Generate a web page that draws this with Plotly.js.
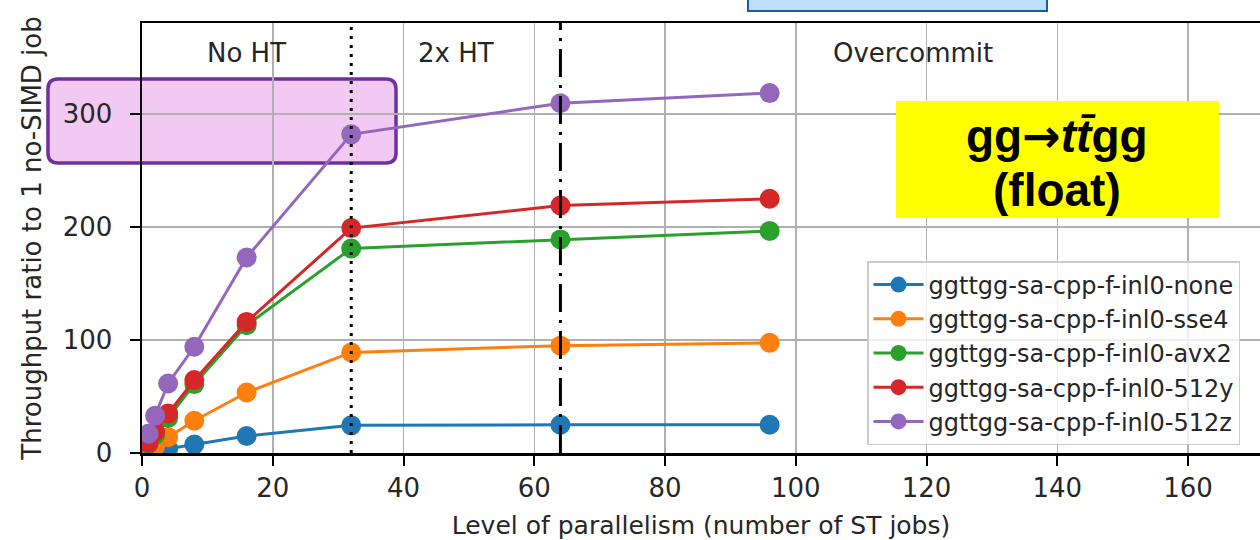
<!DOCTYPE html>
<html>
<head>
<meta charset="utf-8">
<script src="https://cdn.plot.ly/plotly-3.0.1.min.js"></script>
<style>html,body{margin:0;padding:0;background:#fff;}#chart{width:1260px;height:540px;}</style>
</head>
<body>
<div id="chart"></div>
<script>
// ---- data ----
const jobs = [1, 2, 4, 8, 16, 32, 64, 96];
const seriesNames = [
  "ggttgg-sa-cpp-f-inl0-none",
  "ggttgg-sa-cpp-f-inl0-sse4",
  "ggttgg-sa-cpp-f-inl0-avx2",
  "ggttgg-sa-cpp-f-inl0-512y",
  "ggttgg-sa-cpp-f-inl0-512z"
];
const noneVals = [1, 2, 4, 7.5, 15, 24.5, 25, 25];
const sse4Vals = [3, 6, 14, 28.5, 53.5, 89, 95, 97.5];
const avx2Vals = [8, 16, 31, 61, 113, 181, 189, 196.5];
const y512Vals = [9, 19, 35, 64.5, 116, 199, 219, 225];
const z512Vals = [17, 33, 61.5, 94, 173, 282, 309.5, 318.5];
const colors = ["#1f77b4", "#ff7f0e", "#2ca02c", "#d62728", "#9467bd"];
const regionLabels = ["No HT", "2x HT", "Overcommit"];
const regionLabelX = [16, 48, 118];
const regionLabelY = 354;
const vlinesX = [32, 64];
const xTicks = [0, 20, 40, 60, 80, 100, 120, 140, 160];
const yTicks = [0, 100, 200, 300];

const allVals = [noneVals, sse4Vals, avx2Vals, y512Vals, z512Vals];
const traces = allVals.map((v, i) => ({
  type: "scatter", mode: "lines+markers",
  x: jobs, y: v, name: seriesNames[i],
  line: {color: colors[i], width: 3},
  marker: {color: colors[i], size: 20}
}));

// rounded box path in paper coords
function roundRect(x0, y0, x1, y1, rx, ry) {
  return `M${x0+rx},${y0} L${x1-rx},${y0} Q${x1},${y0} ${x1},${y0+ry} L${x1},${y1-ry} Q${x1},${y1} ${x1-rx},${y1} L${x0+rx},${y1} Q${x0},${y1} ${x0},${y1-ry} L${x0},${y0+ry} Q${x0},${y0} ${x0+rx},${y0} Z`;
}

const shapes = [
  {type: "path", xref: "paper", yref: "paper", layer: "below",
   path: roundRect(-0.0841, 0.6744, 0.2272, 0.8698, 0.009, 0.0233),
   fillcolor: "#f2c9f2", line: {color: "#7030a0", width: 3.5}},
  {type: "line", xref: "x", yref: "paper", x0: vlinesX[0], x1: vlinesX[0], y0: 0, y1: 1,
   line: {color: "#000", width: 3, dash: "3px,6px"}, layer: "above"},
  {type: "line", xref: "x", yref: "paper", x0: vlinesX[1], x1: vlinesX[1], y0: 0, y1: 1,
   line: {color: "#000", width: 3, dash: "28px,8px,3px,8px"}, layer: "above"},
  {type: "rect", xref: "paper", yref: "paper", x0: 0.542, x1: 0.8095, y0: 1.028, y1: 1.12,
   fillcolor: "#bddffb", line: {color: "#1a5aa8", width: 2}, layer: "above"},
  {type: "rect", xref: "paper", yref: "paper", x0: 0.6744, x1: 0.9633, y0: 0.5465, y1: 0.8186,
   fillcolor: "#ffff00", line: {width: 0}, layer: "above"}
];

const annotations = regionLabels.map((t, i) => ({
  x: regionLabelX[i], y: regionLabelY, xref: "x", yref: "y", text: t, showarrow: false,
  font: {family: "DejaVu Sans", size: 26, color: "#262626"}
}));
annotations.push({
  xref: "paper", yref: "paper", x: 0.8188, y: 0.7365, showarrow: false,
  xanchor: "center", yanchor: "middle",
  text: "<b>gg<span style=\"font-family:DejaVu Sans\">→</span><i>tt\u0304</i>gg</b>",
  font: {family: "Liberation Sans", size: 46, color: "#000"}
});
annotations.push({
  xref: "paper", yref: "paper", x: 0.8188, y: 0.6127, showarrow: false,
  xanchor: "center", yanchor: "middle",
  text: "<b>(float)</b>",
  font: {family: "Liberation Sans", size: 46, color: "#000"}
});

const axisCommon = {
  showline: true, linecolor: "#000", linewidth: 2.5,
  ticks: "outside", ticklen: 10, tickwidth: 2, tickcolor: "#000",
  showgrid: true, gridcolor: "#b0b0b0", gridwidth: 1.5,
  zeroline: false,
  tickfont: {family: "DejaVu Sans", size: 26, color: "#262626"}
};

const layout = {
  width: 1260, height: 540,
  margin: {l: 142, r: 0, t: 23, b: 87, autoexpand: false},
  paper_bgcolor: "#fff", plot_bgcolor: "#fff",
  showlegend: true,
  xaxis: Object.assign({}, axisCommon, {
    range: [0, 171], tickvals: xTicks, mirror: true,
    title: {text: "Level of parallelism (number of ST jobs)", standoff: 17,
            font: {family: "DejaVu Sans", size: 25, color: "#262626"}}
  }),
  yaxis: Object.assign({}, axisCommon, {
    range: [0, 380.5], tickvals: yTicks, ticklabelstandoff: 12,
    title: {text: "Throughput ratio to 1 no-SIMD job", standoff: 14,
            font: {family: "DejaVu Sans", size: 26, color: "#262626"}}
  }),
  legend: {
    x: 0.6485, y: 0.4465, xanchor: "left", yanchor: "top",
    bgcolor: "rgba(255,255,255,0.8)", bordercolor: "#cccccc", borderwidth: 1.5,
    font: {family: "DejaVu Sans", size: 24, color: "#262626"},
    itemwidth: 50
  },
  shapes: shapes,
  annotations: annotations
};

Plotly.newPlot("chart", traces, layout, {displayModeBar: false, staticPlot: true});
</script>
</body>
</html>
